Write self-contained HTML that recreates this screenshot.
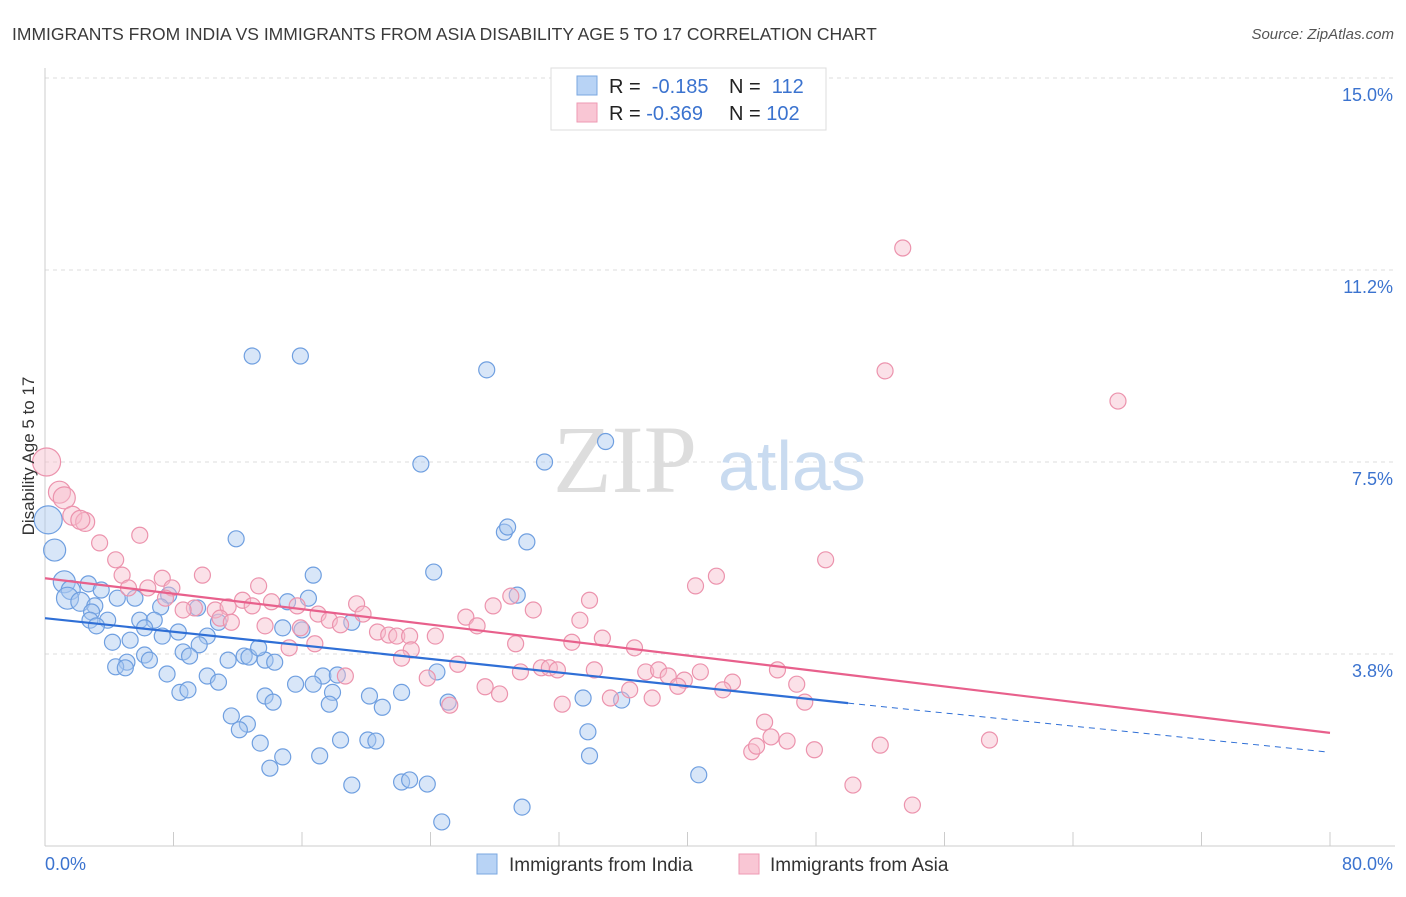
<!DOCTYPE html>
<html><head><meta charset="utf-8"><style>
body{margin:0;background:#fff;font-family:"Liberation Sans",sans-serif}
svg text{font-family:"Liberation Sans",sans-serif}
</style></head><body>
<svg id="chart" width="1406" height="892" viewBox="0 0 1406 892" xmlns="http://www.w3.org/2000/svg">
<text x="12" y="40" font-size="17.5" fill="#3a3a3a">IMMIGRANTS FROM INDIA VS IMMIGRANTS FROM ASIA DISABILITY AGE 5 TO 17 CORRELATION CHART</text>
<text x="1394" y="39" font-size="15" fill="#555" font-style="italic" text-anchor="end">Source: ZipAtlas.com</text>
<g id="grid"></g>
<g id="axes"></g>
<text x="553" y="492" font-size="96" fill="#ddd" style="font-family:'Liberation Serif',serif">ZIP</text>
<text x="718" y="490" font-size="70" fill="#c9dbf0">atlas</text>
<g id="pts"></g>
<g id="trend"></g>
<g>
<rect x="551" y="68" width="275" height="62" fill="#fff" stroke="#ddd"/>
<rect x="577" y="76" width="20" height="19" fill="#b8d3f5" stroke="#7aa7e0"/>
<rect x="577" y="103" width="20" height="19" fill="#f9c6d4" stroke="#ee9ab3"/>
<text x="609" y="93" font-size="20" fill="#222">R = <tspan fill="#3b73cf">&#160;-0.185</tspan><tspan x="729">N = </tspan><tspan fill="#3b73cf">&#160;112</tspan></text>
<text x="609" y="120" font-size="20" fill="#222">R = <tspan fill="#3b73cf">-0.369</tspan><tspan x="729">N = </tspan><tspan fill="#3b73cf">102</tspan></text>
</g>
<text x="34" y="456" font-size="17" fill="#333" transform="rotate(-90 34 456)" text-anchor="middle">Disability Age 5 to 17</text>
<g>
<rect x="477" y="854" width="20" height="20" fill="#b8d3f5" stroke="#7aa7e0"/>
<text x="509" y="871" font-size="19" fill="#333">Immigrants from India</text>
<rect x="739" y="854" width="20" height="20" fill="#f9c6d4" stroke="#ee9ab3"/>
<text x="770" y="871" font-size="19" fill="#333">Immigrants from Asia</text>
</g>
</svg>
<script>
const yTicks=[3.8,7.5,11.2,15.0];
const yTickVals=[3.75,7.5,11.25,15];
const xTickLabels=["0.0%","80.0%"];
const indiaX=[12.9,15.9,27.5,34.9,23.4,31.1,28.6,28.8,30.0,11.9,0.6,0.2,24.2,16.7,29.4,1.2,2.7,1.6,3.5,1.4,2.2,3.1,4.5,5.6,7.7,7.2,2.9,2.8,3.9,3.2,5.9,6.8,6.2,9.5,10.8,15.1,16.4,16.0,14.8,19.1,7.3,8.3,10.1,9.6,4.2,5.3,8.6,9.0,6.2,6.5,5.1,4.4,5.0,11.4,12.4,12.7,13.7,14.3,13.3,7.6,10.1,10.8,8.4,8.9,17.3,18.2,16.7,15.6,13.7,14.2,17.9,17.7,20.2,21.0,22.2,24.4,25.1,33.5,35.9,11.6,12.6,12.1,13.4,14.8,14.0,17.1,18.4,20.1,20.6,33.8,33.9,40.7,19.1,22.2,22.7,23.8,24.7,29.7];
const indiaY=[9.57,9.57,9.3,7.9,7.46,7.5,6.13,6.23,5.94,6.0,5.78,6.37,5.35,5.29,4.9,5.16,5.12,5.0,5.0,4.84,4.77,4.69,4.84,4.84,4.9,4.67,4.57,4.41,4.41,4.3,4.41,4.41,4.26,4.65,4.37,4.77,4.84,4.22,4.26,4.37,4.1,4.18,4.1,3.93,3.98,4.02,3.79,3.71,3.73,3.63,3.59,3.5,3.48,3.63,3.71,3.69,3.63,3.59,3.87,3.36,3.32,3.2,3.0,3.05,3.32,3.34,3.16,3.16,2.93,2.81,3.0,2.77,2.93,2.71,3.0,3.4,2.81,2.89,2.85,2.54,2.38,2.27,2.01,1.74,1.52,1.76,2.07,2.07,2.05,2.23,1.76,1.39,1.19,1.25,1.29,1.21,0.47,0.76];
const asiaX=[53.4,52.3,66.8,0.1,0.9,1.2,1.7,2.5,2.2,3.4,4.4,5.9,48.6,41.8,40.5,9.8,4.8,7.3,7.9,6.4,5.2,13.3,7.5,12.3,12.9,14.1,33.9,10.6,11.4,9.3,8.6,10.9,11.6,13.7,15.7,15.9,17.0,17.7,18.4,19.4,19.8,27.9,29.0,30.4,26.2,26.9,33.3,20.7,21.4,21.9,22.7,24.3,16.8,15.2,22.8,29.3,32.8,34.7,36.7,22.2,25.7,30.9,31.4,31.9,34.2,29.6,37.4,38.2,38.8,39.8,40.8,18.7,23.8,42.8,45.6,46.8,39.4,27.4,28.3,35.2,36.4,37.8,25.2,32.2,42.2,47.3,44.8,45.2,44.0,44.3,46.2,47.9,52.0,58.8,50.3,54.0];
const asiaY=[11.68,9.28,8.69,7.5,6.91,6.8,6.45,6.33,6.37,5.92,5.59,6.07,5.59,5.27,5.08,5.29,5.29,5.23,5.04,5.04,5.04,5.08,4.84,4.8,4.69,4.77,4.8,4.61,4.67,4.65,4.61,4.45,4.37,4.3,4.69,4.26,4.53,4.41,4.32,4.73,4.53,4.69,4.88,4.61,4.47,4.3,4.41,4.18,4.12,4.1,4.1,4.1,3.95,3.87,3.83,3.95,3.98,4.06,3.87,3.67,3.55,3.48,3.48,3.44,3.44,3.4,3.4,3.44,3.32,3.24,3.4,3.32,3.28,3.2,3.44,3.16,3.12,3.11,2.97,2.89,3.05,2.89,2.75,2.77,3.05,2.81,2.42,2.13,1.84,1.95,2.05,1.88,1.97,2.07,1.19,0.8];
const indiaTrend=[[0,4.45],[50,2.79],[79.7,1.84]];
const asiaTrend=[[0,5.23],[80,2.21]];

const X0=45,X1=1330,XMAX=80;
const xs=v=>X0+v/XMAX*(X1-X0);
const ys=v=>654-(v-3.75)*51.2;
const NS="http://www.w3.org/2000/svg";
function mk(tag,attrs,parent){const e=document.createElementNS(NS,tag);for(const k in attrs)e.setAttribute(k,attrs[k]);parent.appendChild(e);return e;}
const grid=document.getElementById('grid'),axes=document.getElementById('axes');
yTickVals.forEach((v,i)=>{
 const l=mk('line',{x1:X0,x2:1395,y1:ys(v),y2:ys(v),stroke:'#ddd','stroke-dasharray':'4,4'},grid);
 
 
 const t=mk('text',{x:1393,y:ys(v)+23,'font-size':18,fill:'#3b73cf','text-anchor':'end'},axes);
 t.textContent=yTicks[i].toFixed(1)+'%';
 
 
});
const ax=mk('line',{x1:X0,x2:X0,y1:68,y2:ys(0),stroke:'#ccc'},axes);


const bx=mk('line',{x1:X0,x2:1395,y1:ys(0),y2:ys(0),stroke:'#ccc'},axes);


for(let v=0;v<=80;v+=8){
 const t=mk('line',{x1:xs(v),x2:xs(v),y1:ys(0),y2:ys(0)-14,stroke:'#ccc'},axes);
 
 
}
[[0,'start',45],[1,'end',1393]].forEach(([i,a,x])=>{
 const t=mk('text',{x:x,y:870,'font-size':18,fill:'#3b73cf','text-anchor':a},axes);
 t.textContent=xTickLabels[i];
 
 
});
const pts=document.getElementById('pts');
function drawPts(X,Y,fill,stroke,name){
 X.forEach((x,i)=>{
  const r=x<0.5?14:(x<1.5?11:(x<2.6?9.5:8));
  const c=mk('circle',{cx:xs(x),cy:ys(Y[i]),r:r,fill:fill,'fill-opacity':0.45,stroke:stroke,'stroke-width':1.2},pts);
  
  
 });
}
drawPts(indiaX,indiaY,'#a9c8f0','#6f9fe0','india-point');
drawPts(asiaX,asiaY,'#f7bccd','#ec93ad','asia-point');
const tr=document.getElementById('trend');
const l1=mk('line',{x1:xs(indiaTrend[0][0]),y1:ys(indiaTrend[0][1]),x2:xs(indiaTrend[1][0]),y2:ys(indiaTrend[1][1]),stroke:'#2f6fd6','stroke-width':2.2},tr);


const l2=mk('line',{x1:xs(indiaTrend[1][0]),y1:ys(indiaTrend[1][1]),x2:xs(indiaTrend[2][0]),y2:ys(indiaTrend[2][1]),stroke:'#2f6fd6','stroke-width':1,'stroke-dasharray':'6,5'},tr);


const l3=mk('line',{x1:xs(asiaTrend[0][0]),y1:ys(asiaTrend[0][1]),x2:xs(asiaTrend[1][0]),y2:ys(asiaTrend[1][1]),stroke:'#e8608c','stroke-width':2.2},tr);


</script>
</body></html>
